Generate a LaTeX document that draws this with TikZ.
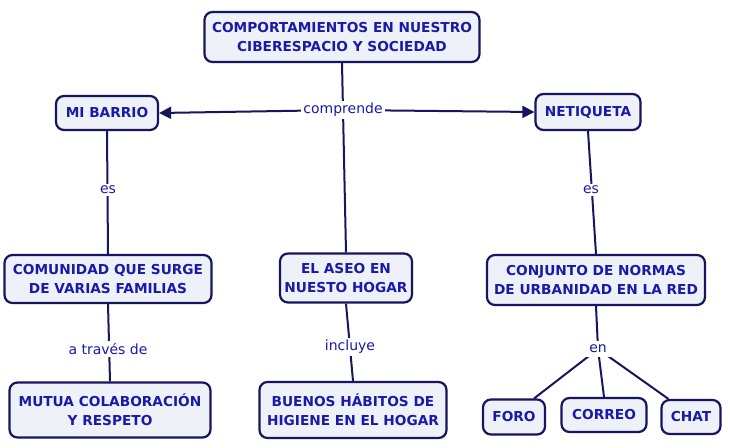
\documentclass[tikz,border=0pt]{standalone}
\usepackage{fontspec}
\setmainfont{DejaVu Sans}
\usetikzlibrary{arrows.meta}
\definecolor{txtblue}{HTML}{1A1AA8}
\definecolor{linenavy}{HTML}{16165E}
\definecolor{boxfill}{HTML}{EEF2F8}
\tikzset{
  concept/.style={draw=linenavy, line width=2.2pt, rounded corners=8pt, fill=boxfill,
    text=txtblue, font=\bfseries\fontsize{13.7}{19}\selectfont, align=center, inner sep=2pt},
  linklabel/.style={fill=white, text=txtblue, font=\fontsize{14}{16}\selectfont, inner sep=2pt},
  conn/.style={draw=linenavy, line width=2pt},
  arr/.style={conn, -{Triangle[length=12pt,width=12pt]}}
}
\begin{document}
\begin{tikzpicture}[x=1pt,y=-1pt]
\useasboundingbox (0,0) rectangle (730,447);
\fill[white] (0,0) rectangle (730,447);
% nodes
\node[concept, minimum width=275pt, minimum height=50pt] (top) at (342,37) {COMPORTAMIENTOS EN NUESTRO\\CIBERESPACIO Y SOCIEDAD};
\node[concept, minimum width=102pt, minimum height=34pt] (barrio) at (107,113) {MI BARRIO};
\node[concept, minimum width=105pt, minimum height=36pt] (neti) at (588,112) {NETIQUETA};
\node[concept, minimum width=207pt, minimum height=48pt] (comun) at (108,279) {COMUNIDAD QUE SURGE\\DE VARIAS FAMILIAS};
\node[concept, minimum width=132pt, minimum height=49pt] (aseo) at (346,278) {EL ASEO EN\\NUESTO HOGAR};
\node[concept, minimum width=218pt, minimum height=50pt] (conj) at (596,280) {CONJUNTO DE NORMAS\\DE URBANIDAD EN LA RED};
\node[concept, minimum width=201pt, minimum height=55pt] (mutua) at (110,410) {MUTUA COLABORACIÓN\\Y RESPETO};
\node[concept, minimum width=187pt, minimum height=56pt] (buenos) at (353,410) {BUENOS HÁBITOS DE\\HIGIENE EN EL HOGAR};
\node[concept, minimum width=62pt, minimum height=35pt] (foro) at (514,417) {FORO};
\node[concept, minimum width=85pt, minimum height=34pt] (correo) at (604,415) {CORREO};
\node[concept, minimum width=59pt, minimum height=34pt] (chat) at (691,417) {CHAT};
% link label positions
\coordinate (cp) at (343,110);
\coordinate (es1) at (108,190);
\coordinate (atr) at (108,349);
\coordinate (inc) at (350,347);
\coordinate (es2) at (591,190);
\coordinate (en) at (598,349);
% connectors
\draw[conn] (top.south) -- (aseo.north);
\draw[arr] (cp) -- (barrio.east);
\draw[arr] (cp) -- (neti.west);
\draw[conn] (barrio.south) -- (comun.north);
\draw[conn] (comun.south) -- (mutua.north);
\draw[conn] (aseo.south) -- (buenos.north);
\draw[conn] (neti.south) -- (conj.north);
\draw[conn] (conj.south) -- (en);
\draw[conn] (en) -- ([xshift=-12pt]foro.north east);
\draw[conn] (en) -- (correo.north);
\draw[conn] (en) -- ([xshift=8pt]chat.north west);
\node[linklabel] (cpl) at (cp) {comprende};
\node[linklabel] (es1l) at (es1) {es};
\node[linklabel] (atrl) at (atr) {a través de};
\node[linklabel] (incl) at (inc) {incluye};
\node[linklabel] (es2l) at (es2) {es};
\node[linklabel, inner sep=4pt] (enl) at (en) {en};
\end{tikzpicture}
\end{document}
